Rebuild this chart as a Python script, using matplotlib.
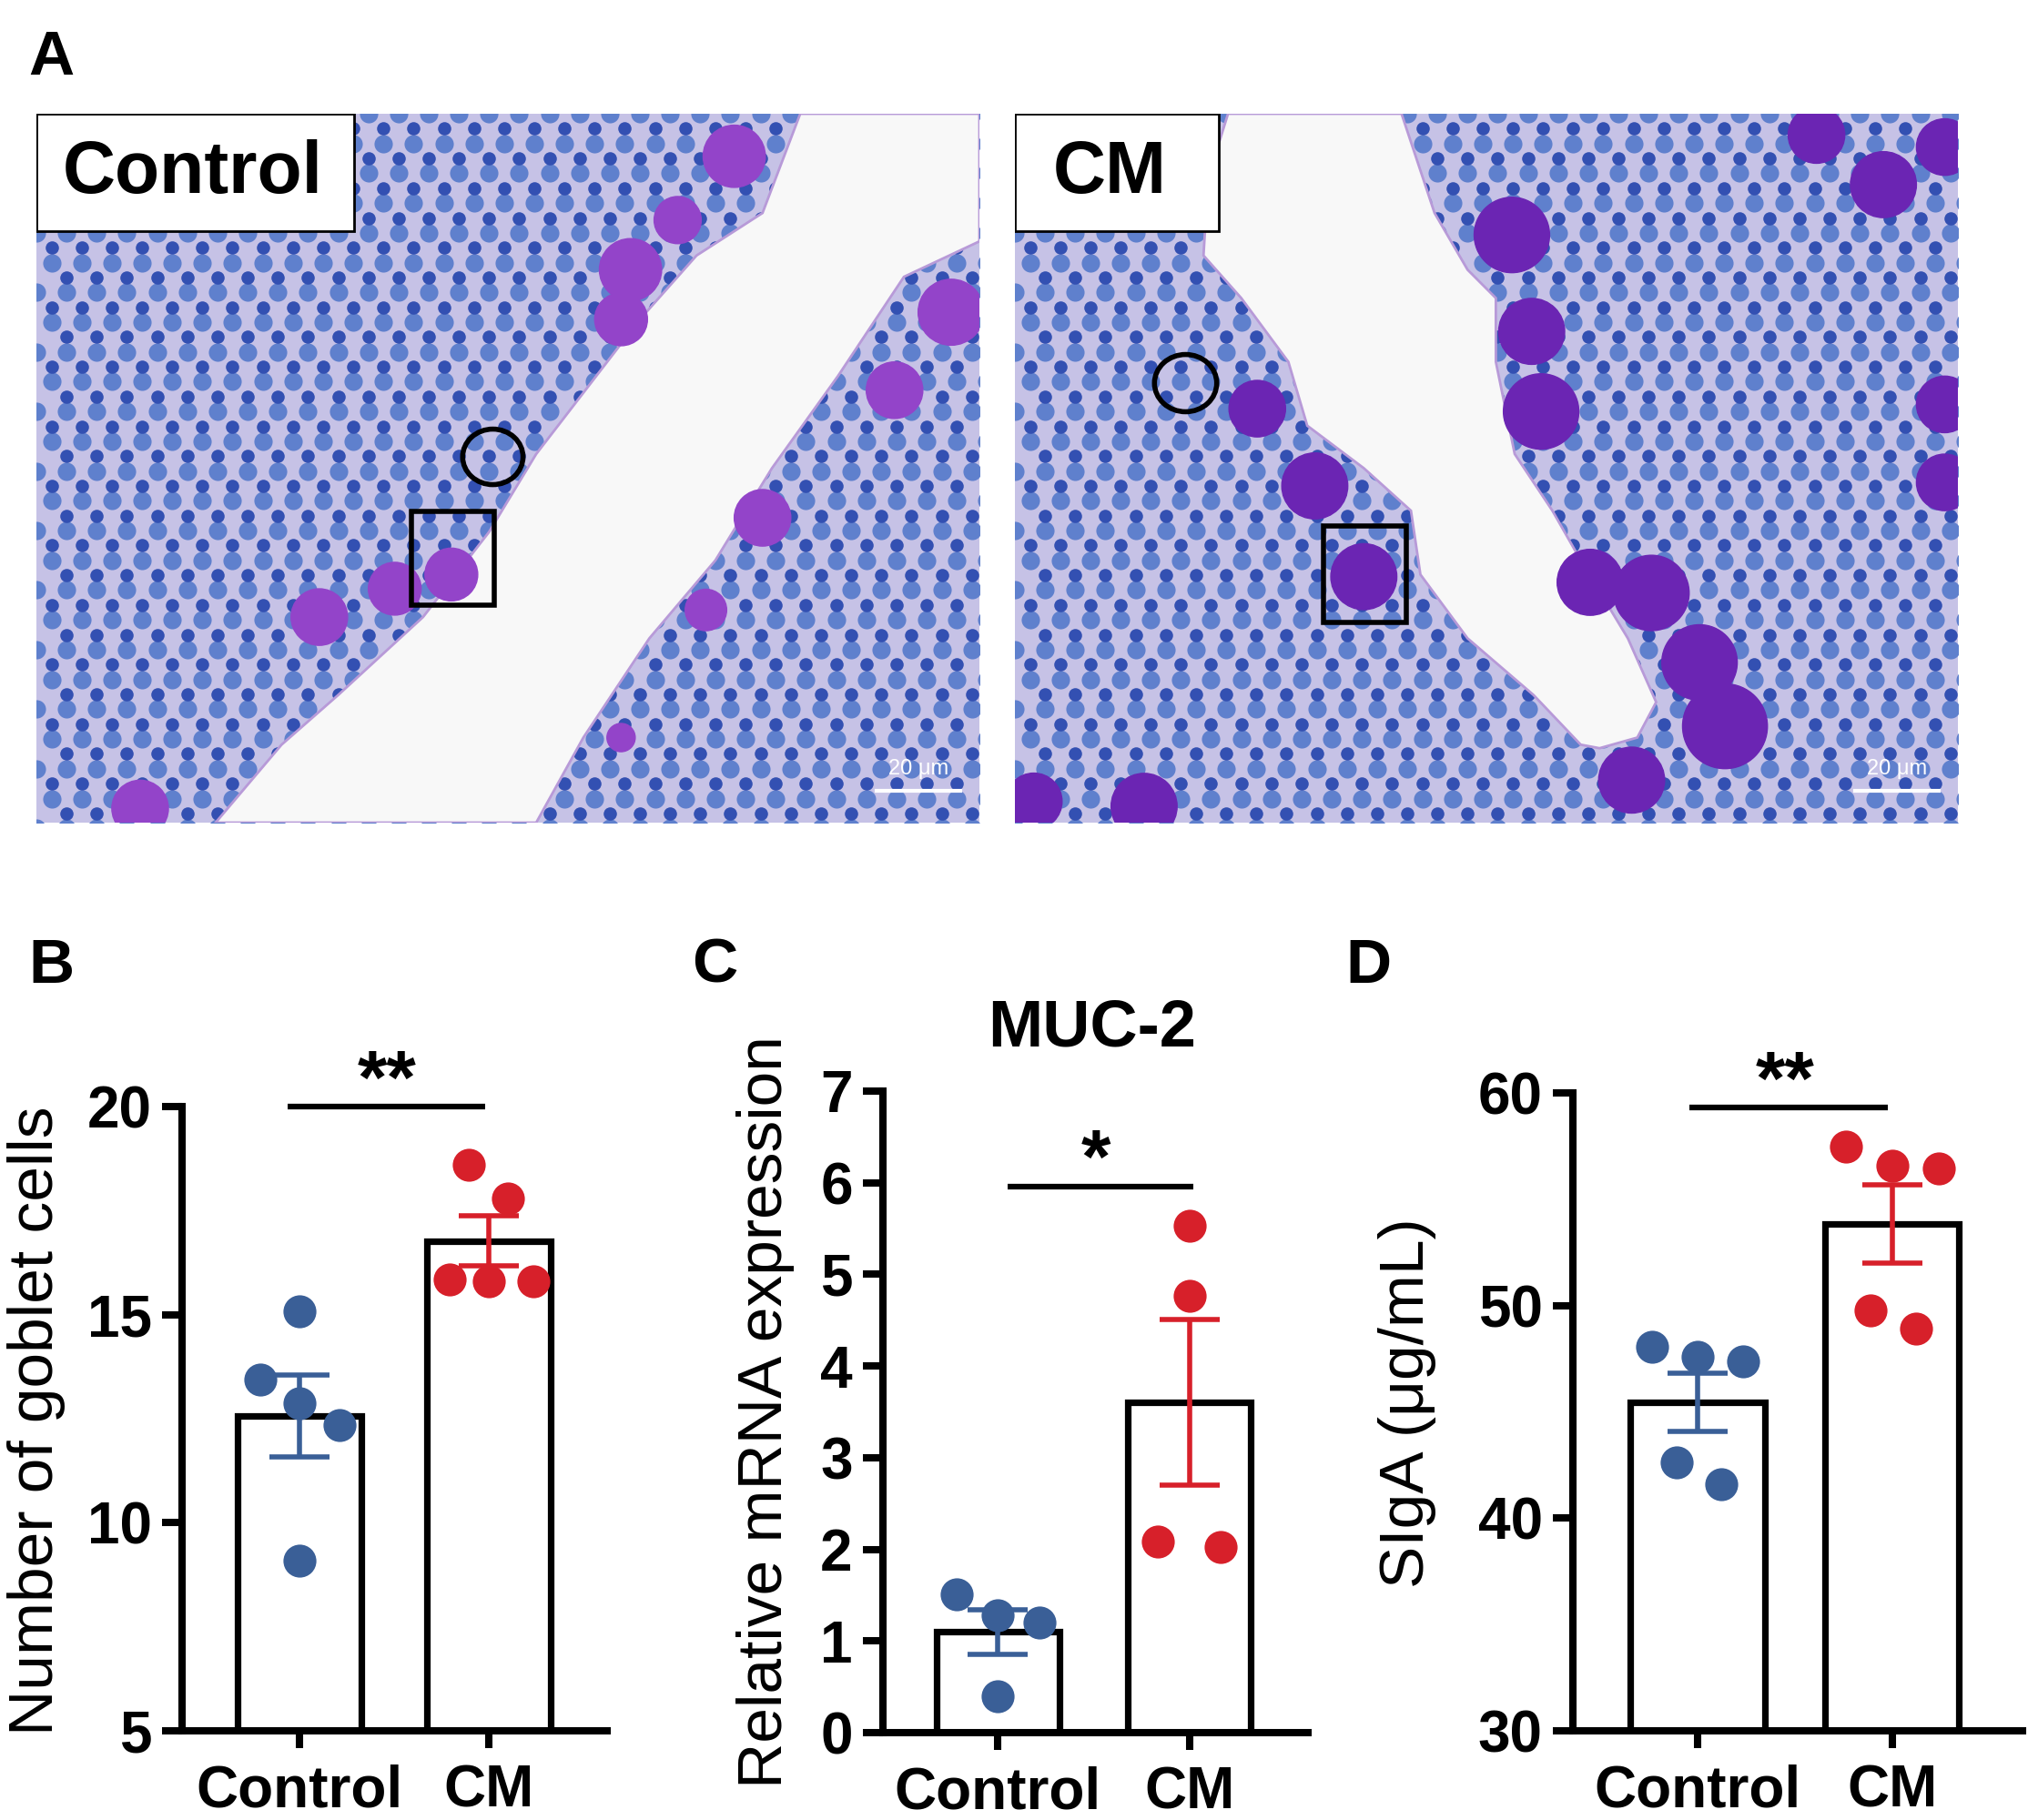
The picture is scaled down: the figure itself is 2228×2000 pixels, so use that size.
import numpy as np
import matplotlib
matplotlib.use('Agg')
import matplotlib.pyplot as plt
from matplotlib.patches import Polygon, Ellipse, Rectangle

plt.rcParams['font.family'] = ['Liberation Sans', 'DejaVu Sans']

# ---- data ----
groups = ['Control', 'CM']

goblet_ctrl = [15.07, 13.45, 12.87, 12.35, 9.08]
goblet_cm = [18.61, 17.79, 15.85, 15.80, 15.80]

muc2_ctrl = [1.51, 1.28, 1.20, 0.40]
muc2_cm = [5.53, 4.77, 2.09, 2.03]

siga_ctrl = [48.08, 47.59, 47.37, 42.63, 41.59]
siga_cm = [57.49, 56.59, 56.45, 49.77, 48.90]

sig_B, sig_C, sig_D = '**', '*', '**'

# histology panel outlines (fractions of each photo, y from top)
lumen_ctrl = [(0.81, 0), (1, 0), (1, 0.18), (0.92, 0.23), (0.85, 0.37), (0.78, 0.50),
              (0.72, 0.63), (0.65, 0.74), (0.58, 0.88), (0.53, 1.0), (0.19, 1.0),
              (0.26, 0.89), (0.32, 0.82), (0.41, 0.71), (0.48, 0.59), (0.53, 0.48),
              (0.64, 0.29), (0.70, 0.20), (0.77, 0.14)]
lumen_cm = [(0.226, 0), (0.205, 0.09), (0.20, 0.20), (0.24, 0.26), (0.29, 0.35),
            (0.31, 0.44), (0.37, 0.50), (0.42, 0.56), (0.43, 0.65), (0.48, 0.74),
            (0.55, 0.82), (0.60, 0.89), (0.62, 0.895), (0.66, 0.88), (0.68, 0.83),
            (0.65, 0.74), (0.60, 0.63), (0.57, 0.56), (0.53, 0.48), (0.51, 0.35),
            (0.51, 0.26), (0.48, 0.22), (0.445, 0.14), (0.41, 0)]
goblets_ctrl = [(0.74, 0.06, 0.033), (0.68, 0.15, 0.025), (0.63, 0.22, 0.033),
                (0.62, 0.29, 0.028), (0.97, 0.28, 0.035), (0.91, 0.39, 0.030),
                (0.77, 0.57, 0.030), (0.71, 0.70, 0.022), (0.44, 0.65, 0.028),
                (0.38, 0.67, 0.028), (0.30, 0.71, 0.030), (0.11, 0.98, 0.030),
                (0.62, 0.88, 0.015)]
goblets_cm = [(0.527, 0.171, 0.040), (0.548, 0.307, 0.035), (0.558, 0.42, 0.040),
              (0.257, 0.416, 0.030), (0.318, 0.525, 0.035), (0.37, 0.653, 0.035),
              (0.61, 0.661, 0.035), (0.675, 0.676, 0.040), (0.726, 0.774, 0.040),
              (0.753, 0.864, 0.045), (0.654, 0.94, 0.035), (0.921, 0.10, 0.035),
              (0.986, 0.047, 0.030), (0.986, 0.41, 0.030), (0.986, 0.52, 0.030),
              (0.137, 0.977, 0.035), (0.02, 0.97, 0.030), (0.85, 0.03, 0.030)]

BLUE = '#3a5f97'
RED = '#d7202a'

W, H = 2228, 2000
fig = plt.figure(figsize=(W / 100, H / 100), dpi=100)


def px_box(l, t, r, b):
    return [l / W, 1 - b / H, (r - l) / W, (b - t) / H]


# ---- panel A: stained sections (schematic) ----
def tissue(rect, label, box_w, text_x, lumen, goblets, gob_color, circ, sq):
    ax = fig.add_axes(px_box(*rect))
    ax.set_xlim(0, 1)
    ax.set_ylim(1, 0)
    ax.set_facecolor('#c6c2e6')
    ax.set_xticks([])
    ax.set_yticks([])
    for s in ax.spines.values():
        s.set_visible(False)
    asp = (rect[2] - rect[0]) / (rect[3] - rect[1])
    # nuclei texture on a staggered grid
    gx, gy = np.meshgrid(np.arange(0.0, 1.02, 0.032), np.arange(0.0, 1.02, 0.042))
    gx = gx + (np.arange(gx.shape[0])[:, None] % 2) * 0.016
    ax.scatter(gx.ravel(), gy.ravel(), s=210, color='#5f80cd', linewidths=0, zorder=1)
    ax.scatter(gx.ravel() + 0.016, gy.ravel() + 0.021, s=110, color='#3350b2',
               linewidths=0, zorder=1)
    ax.add_patch(Polygon(lumen, closed=True, facecolor='#f8f8f8', edgecolor='#b89ad8',
                         linewidth=2, zorder=2))
    for x, y, r in goblets:
        ax.add_patch(Ellipse((x, y), 2 * r, 2 * r * asp, color=gob_color, zorder=3))
    ax.add_patch(Ellipse(circ[:2], 2 * circ[2], 2 * circ[2] * asp * 0.92, fill=False,
                         edgecolor='black', linewidth=4, zorder=4))
    ax.add_patch(Rectangle(sq[:2], sq[2] - sq[0], sq[3] - sq[1], fill=False,
                           edgecolor='black', linewidth=4, zorder=4))
    ax.add_patch(Rectangle((0, 0), box_w, 0.166, facecolor='white', edgecolor='black',
                           linewidth=2, zorder=5))
    ax.text(text_x, 0.085, label, ha='left', va='center', fontsize=58,
            fontweight='bold', zorder=6)
    ax.plot([0.891, 0.980], [0.955, 0.955], color='white', lw=3, zorder=5)
    ax.text(0.935, 0.938, '20 μm', ha='center', va='bottom', fontsize=17,
            color='white', zorder=5)
    return ax


tissue((40, 125, 1076, 904), 'Control', 0.337, 0.028, lumen_ctrl, goblets_ctrl,
       '#9344c9', (0.484, 0.484, 0.032), (0.398, 0.561, 0.486, 0.693))
tissue((1115, 125, 2151, 904), 'CM', 0.216, 0.040, lumen_cm, goblets_cm,
       '#6b25b3', (0.181, 0.380, 0.033), (0.327, 0.582, 0.415, 0.718))


# ---- panels B-D: bar + dot plots ----
def bar_panel(rect, ctrl, cm, offs, ylim, yticks, xlim, width, sig, sig_y, line_x, star_x):
    ax = fig.add_axes(px_box(*rect))
    vals = [ctrl, cm]
    means = [np.mean(v) for v in vals]
    sems = [np.std(v, ddof=1) / np.sqrt(len(v)) for v in vals]
    x = np.arange(len(groups))
    ax.bar(x, means, width=width, color='white', edgecolor='black', linewidth=5.2, zorder=1)
    for xi, v, dx, m, e, col in zip(x, vals, offs, means, sems, [BLUE, RED]):
        ax.scatter(xi + np.array(dx), v, s=680, color=col, linewidths=0, zorder=3)
        ax.errorbar(xi, m, yerr=e, fmt='none', ecolor=col, elinewidth=4,
                    capsize=24, capthick=4, zorder=4)
    ax.set_xlim(*xlim)
    ax.set_ylim(*ylim)
    ax.set_yticks(yticks)
    ax.set_xticks(x)
    ax.set_xticklabels(groups)
    for s in ['top', 'right']:
        ax.spines[s].set_visible(False)
    for s in ['left', 'bottom']:
        ax.spines[s].set_linewidth(5.8)
    ax.tick_params(axis='y', length=16, width=5.8, pad=8, labelsize=46)
    ax.tick_params(axis='x', length=14, width=5.8, pad=12, labelsize=46)
    for t in ax.get_xticklabels() + ax.get_yticklabels():
        t.set_fontweight('bold')
    span = ylim[1] - ylim[0]
    ax.plot(line_x, [sig_y, sig_y], color='black', lw=4.5, clip_on=False,
            solid_capstyle='butt')
    ax.text(star_x, sig_y + 0.005 * span, sig, ha='center', va='baseline',
            fontsize=60, fontweight='bold', clip_on=False)
    return ax


bar_panel((200, 1216, 667, 1902), goblet_ctrl, goblet_cm,
          [[0, -0.205, 0, 0.214, 0], [-0.107, 0.102, -0.205, 0, 0.237]],
          (5, 20), [5, 10, 15, 20], (-0.62, 1.625), 0.65, sig_B, 20.0,
          [-0.06, 0.98], 0.46)
bar_panel((970, 1199, 1437, 1904), muc2_ctrl, muc2_cm,
          [[-0.217, 0, 0.22, 0], [0, 0, -0.164, 0.166]],
          (0, 7), range(8), (-0.60, 1.62), 0.64, sig_C, 5.96,
          [0.05, 1.02], 0.51)
bar_panel((1728, 1201, 2222, 1902), siga_ctrl, siga_cm,
          [[-0.235, 0, 0.233, -0.107, 0.121], [-0.235, 0, 0.239, -0.112, 0.123]],
          (30, 60), [30, 40, 50, 60], (-0.64, 1.67), 0.69, sig_D, 59.3,
          [-0.04, 0.98], 0.45)

# axis titles
fig.text(40 / W, 1 - 1561 / H, 'Number of goblet cells', rotation=90, ha='center',
         va='center', fontsize=50)
fig.text(841 / W, 1 - 1552 / H, 'Relative mRNA expression', rotation=90, ha='center',
         va='center', fontsize=50)
fig.text(1546 / W, 1 - 1542 / H, 'SIgA (μg/mL)', rotation=90, ha='center',
         va='center', fontsize=50)
fig.text(1200 / W, 1 - 1130 / H, 'MUC-2', ha='center', va='center', fontsize=52,
         fontweight='bold')

# panel letters
for letter, (lx, ly) in zip('ABCD', [(31, 82), (31, 1080), (760, 1080), (1478, 1080)]):
    fig.text(lx / W, 1 - ly / H, letter, ha='left', va='baseline', fontsize=50,
             fontweight='bold')

fig.savefig('out.png', dpi=100, facecolor='white')
